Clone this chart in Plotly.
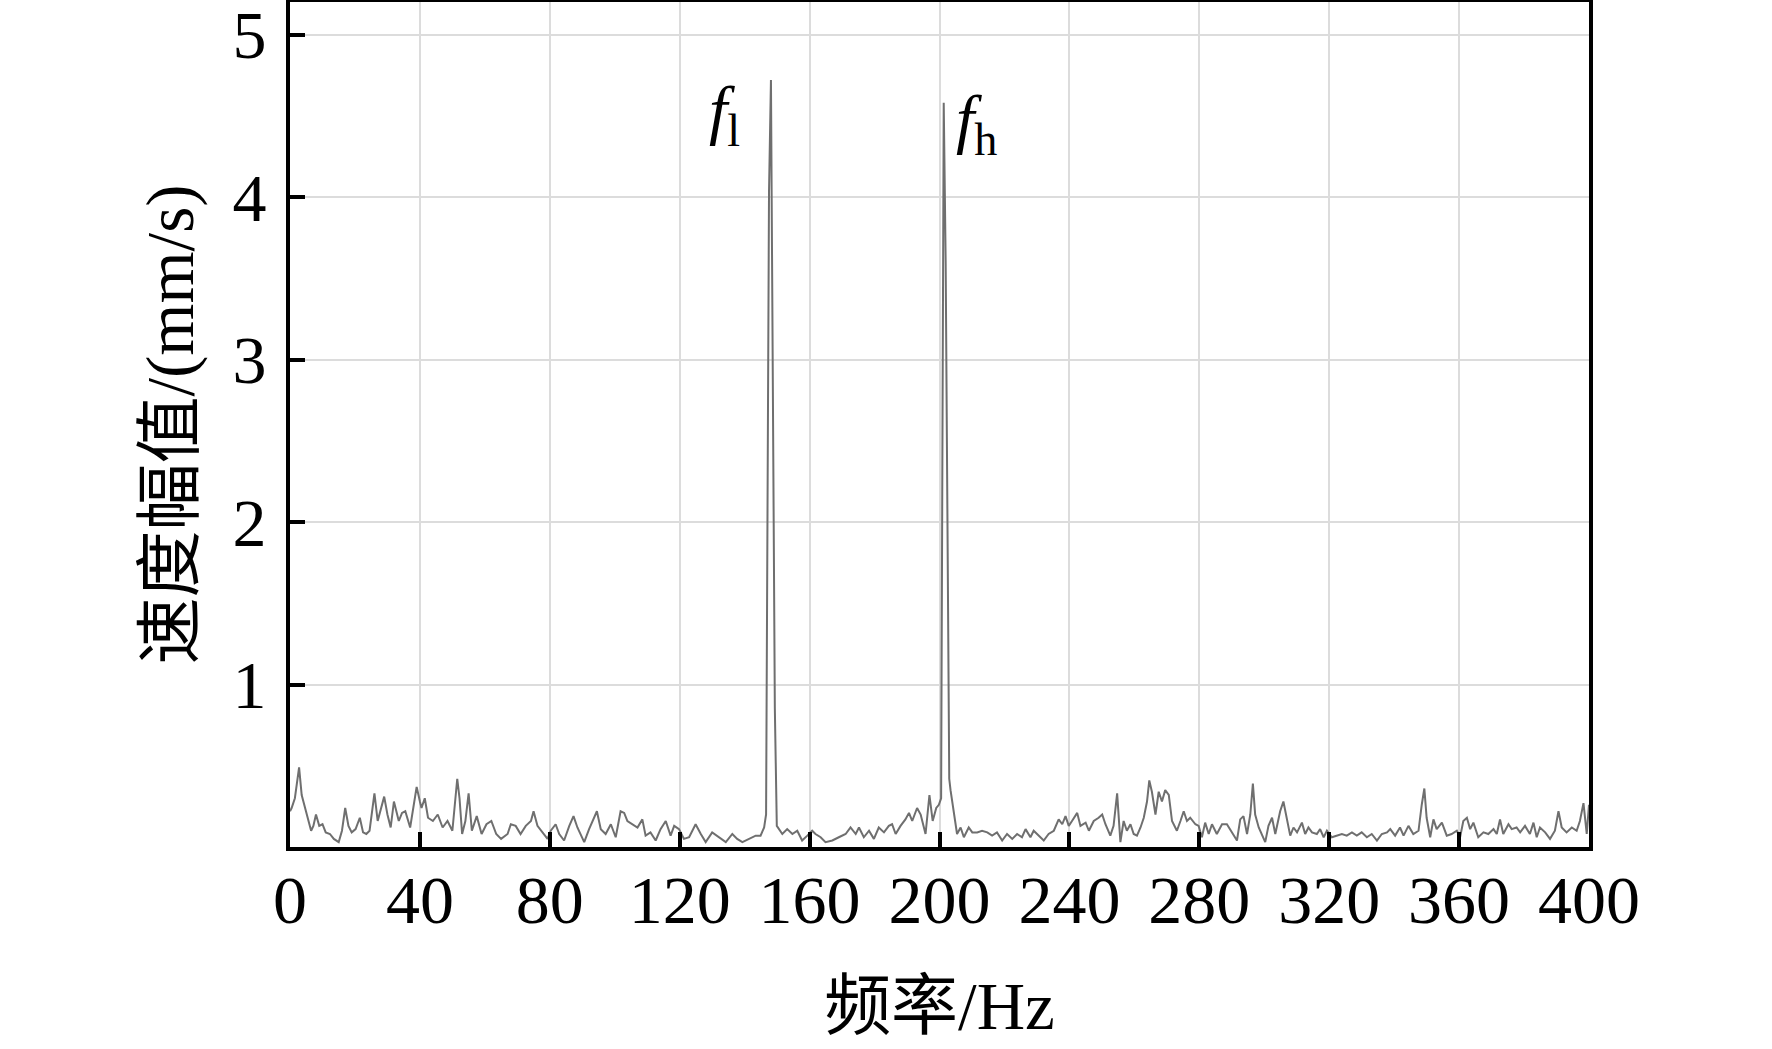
import plotly.graph_objects as go

# ---- data (frequency in Hz, velocity amplitude in mm/s) ----
freq_0_68 = [0, 0.5, 1.5, 2.8, 3.6, 4.4, 5.5, 6.5, 7.2, 8.0,
             9.0, 10.0, 11.0, 12.3, 13.5, 15.0, 16.0, 17.0, 18.0, 19.0,
             20.2, 21.5, 22.5, 23.5, 24.5, 26.0, 27.0, 28.0, 29.0, 30.0,
             31.0, 32.0, 33.5, 34.5, 35.5, 37.0, 38.0, 39.0, 40.0, 40.5,
             41.5, 42.5, 44.0, 45.5, 47.0, 48.5, 50.0, 51.5, 52.2, 53.0,
             54.0, 55.0, 56.0, 57.5, 59.0, 60.5, 62.0, 63.5, 65.0, 67.0,
             68.0]
amp_0_68 = [0.22, 0.24, 0.30, 0.49, 0.32, 0.26, 0.16, 0.10, 0.13, 0.20,
            0.13, 0.14, 0.09, 0.08, 0.05, 0.03, 0.10, 0.24, 0.13, 0.09,
            0.11, 0.18, 0.09, 0.08, 0.10, 0.33, 0.16, 0.24, 0.31, 0.20,
            0.12, 0.28, 0.16, 0.21, 0.22, 0.12, 0.24, 0.37, 0.28, 0.24,
            0.30, 0.18, 0.16, 0.20, 0.12, 0.16, 0.10, 0.42, 0.30, 0.08,
            0.16, 0.33, 0.10, 0.19, 0.08, 0.14, 0.16, 0.08, 0.05, 0.08,
            0.14]

freq_69_135 = [69.5, 71.0, 72.6, 74.2, 75.0, 76.2, 77.7, 79.3, 80.3, 81.8,
               82.9, 84.4, 86.0, 87.3, 88.5, 90.6, 92.1, 93.3, 94.5, 95.7,
               97.2, 98.8, 100.3, 101.8, 102.9, 103.9, 105.4, 107.0, 108.5, 109.5,
               111.0, 112.6, 114.1, 115.7, 117.2, 118.3, 119.8, 121.3, 122.9, 124.9,
               126.5, 128.0, 130.0, 132.1, 134.2]
amp_69_135 = [0.13, 0.08, 0.13, 0.16, 0.22, 0.13, 0.09, 0.05, 0.10, 0.14,
              0.08, 0.04, 0.13, 0.19, 0.12, 0.03, 0.11, 0.16, 0.22, 0.11,
              0.08, 0.14, 0.06, 0.22, 0.21, 0.16, 0.14, 0.12, 0.17, 0.07,
              0.09, 0.04, 0.11, 0.16, 0.07, 0.13, 0.11, 0.05, 0.06, 0.14,
              0.08, 0.03, 0.09, 0.06, 0.03]

freq_136_200 = [136.2, 137.7, 139.3, 141.3, 143.4, 144.9, 146.0,
                146.6, 147.0, 147.5, 148.1, 148.6, 149.3, 149.9,
                151.6, 153.1, 154.7, 156.2, 157.7, 159.3, 160.8, 161.8, 163.4, 164.9,
                167.0, 169.0, 171.1, 172.6, 174.2, 175.2, 176.7, 178.3, 179.8, 181.3,
                182.9, 184.4, 185.4, 186.5, 188.0, 189.5, 190.6, 191.6, 193.1, 194.2,
                195.7, 196.9, 197.9, 199.0, 199.8, 200.5]
amp_136_200 = [0.08, 0.05, 0.03, 0.05, 0.07, 0.07, 0.12,
               0.20, 1.80, 4.03, 4.72, 3.10, 0.85, 0.13,
               0.08, 0.11, 0.08, 0.10, 0.04, 0.07, 0.10, 0.08, 0.06, 0.03,
               0.04, 0.06, 0.08, 0.12, 0.08, 0.12, 0.06, 0.10, 0.05, 0.12,
               0.09, 0.13, 0.14, 0.08, 0.13, 0.17, 0.21, 0.16, 0.24, 0.20,
               0.08, 0.32, 0.16, 0.24, 0.26, 0.30]

freq_201_270 = [201.0, 201.3, 201.9, 202.5, 203.0, 203.4, 204.4, 205.4, 206.5, 207.5,
                209.0, 210.1, 211.6, 213.1, 214.7, 216.2, 217.7, 219.3, 220.8, 222.4,
                223.9, 225.4, 226.5, 228.0, 229.0, 230.6, 232.1, 233.6, 235.2, 236.7,
                237.8, 238.8, 239.8, 240.8, 242.4, 243.4, 245.0, 246.0, 247.5, 249.0,
                250.1, 251.1, 252.6, 253.6, 254.7, 255.7, 256.7, 257.7, 258.8, 259.8,
                260.8, 261.9, 262.9, 263.9, 264.6, 265.4, 266.5, 267.5, 268.5, 269.5]
amp_201_270 = [3.30, 4.58, 3.60, 1.45, 0.42, 0.35, 0.20, 0.08, 0.12, 0.06,
               0.12, 0.09, 0.09, 0.10, 0.09, 0.07, 0.09, 0.04, 0.08, 0.05,
               0.08, 0.06, 0.11, 0.06, 0.10, 0.07, 0.04, 0.08, 0.10, 0.17,
               0.14, 0.19, 0.13, 0.16, 0.21, 0.13, 0.15, 0.10, 0.16, 0.18,
               0.20, 0.14, 0.07, 0.13, 0.33, 0.03, 0.16, 0.10, 0.14, 0.08,
               0.07, 0.12, 0.18, 0.28, 0.41, 0.34, 0.20, 0.34, 0.28, 0.35]

freq_270_338 = [270.6, 271.6, 273.1, 274.2, 275.2, 276.2, 277.2, 278.8, 279.8, 280.8,
                281.8, 282.9, 283.9, 285.4, 287.0, 288.5, 290.0, 291.6, 292.6, 293.6,
                294.7, 295.7, 296.5, 297.2, 298.3, 299.3, 300.3, 301.3, 302.4, 303.4,
                304.9, 305.9, 307.0, 308.0, 309.0, 310.1, 311.6, 312.6, 313.6, 314.7,
                316.2, 317.2, 318.3, 319.3, 320.8, 322.4, 323.9, 325.4, 327.0, 328.5,
                330.0, 331.6, 333.1, 334.7, 336.2, 337.8]
amp_270_338 = [0.32, 0.16, 0.10, 0.16, 0.22, 0.16, 0.18, 0.14, 0.13, 0.06,
               0.15, 0.08, 0.14, 0.08, 0.14, 0.14, 0.09, 0.04, 0.17, 0.19,
               0.08, 0.20, 0.39, 0.20, 0.12, 0.08, 0.03, 0.13, 0.18, 0.08,
               0.22, 0.28, 0.16, 0.07, 0.12, 0.09, 0.15, 0.08, 0.12, 0.09,
               0.08, 0.11, 0.06, 0.10, 0.06, 0.07, 0.08, 0.07, 0.09, 0.07,
               0.09, 0.06, 0.08, 0.04, 0.08, 0.09]

freq_339_400 = [338.8, 340.3, 341.8, 342.9, 344.4, 345.9, 347.5, 348.5, 349.3, 350.0,
                351.1, 352.1, 353.1, 354.7, 356.2, 357.7, 359.3, 360.3, 361.3, 362.4,
                363.4, 364.4, 365.9, 367.5, 369.0, 370.6, 371.6, 372.6, 373.6, 375.2,
                376.2, 377.7, 378.8, 380.3, 381.8, 382.9, 383.9, 384.9, 386.5, 388.0,
                389.5, 390.6, 391.6, 393.1, 394.7, 396.2, 397.2, 398.3, 398.8, 399.3,
                400.0]
amp_339_400 = [0.11, 0.07, 0.12, 0.07, 0.13, 0.08, 0.10, 0.26, 0.36, 0.18,
               0.06, 0.17, 0.11, 0.15, 0.07, 0.08, 0.10, 0.06, 0.16, 0.18,
               0.11, 0.15, 0.06, 0.09, 0.08, 0.11, 0.08, 0.17, 0.08, 0.14,
               0.11, 0.12, 0.09, 0.13, 0.08, 0.15, 0.06, 0.12, 0.09, 0.05,
               0.10, 0.22, 0.12, 0.09, 0.12, 0.10, 0.16, 0.27, 0.16, 0.08,
               0.26]

x_ticks = [0, 40, 80, 120, 160, 200, 240, 280, 320, 360, 400]
y_ticks = [1, 2, 3, 4, 5]
x_title = "频率/Hz"
y_title = "速度幅值/(mm/s)"
peak_label_l = "<i>f</i><sub>l</sub>"
peak_label_h = "<i>f</i><sub>h</sub>"

freq = freq_0_68 + freq_69_135 + freq_136_200 + freq_201_270 + freq_270_338 + freq_339_400
amp = amp_0_68 + amp_69_135 + amp_136_200 + amp_201_270 + amp_270_338 + amp_339_400
assert len(freq) == len(amp)

FONT = "Liberation Serif, Times New Roman, Noto Sans CJK SC, serif"

fig = go.Figure()
fig.add_trace(go.Scatter(x=freq, y=amp, mode="lines",
                         line=dict(color="#6f6f6f", width=2), hoverinfo="skip"))

# peak labels
fig.add_annotation(x=139.2, y=4.51, text=peak_label_l, showarrow=False,
                   xanchor="right", yanchor="middle", font=dict(family=FONT, size=66, color="black"))
fig.add_annotation(x=204.6, y=4.45, text=peak_label_h, showarrow=False,
                   xanchor="left", yanchor="middle", font=dict(family=FONT, size=66, color="black"))

axis_common = dict(showgrid=True, gridcolor="#dcdcdc", gridwidth=2, zeroline=False,
                   showline=True, linecolor="black", linewidth=4, mirror=True,
                   ticks="inside", ticklen=15, tickwidth=4, tickcolor="black",
                   ticklabeloverflow="allow",
                   tickfont=dict(family=FONT, size=68, color="black"))

fig.update_xaxes(range=[0, 400], tickvals=x_ticks, ticktext=[str(v) for v in x_ticks],
                 ticklabelstandoff=-10,
                 title=dict(text=x_title, font=dict(family=FONT, size=67, color="black"), standoff=47),
                 **axis_common)
fig.update_yaxes(range=[0, 5.2], tickvals=y_ticks, ticktext=[str(v) for v in y_ticks],
                 ticklabelstandoff=6,
                 title=dict(text=y_title, font=dict(family=FONT, size=67, color="black"), standoff=18),
                 **axis_common)

fig.update_layout(width=1772, height=1049,
                  margin=dict(l=290, r=183, t=2, b=202, autoexpand=False),
                  plot_bgcolor="white", paper_bgcolor="white",
                  showlegend=False, font=dict(family=FONT, color="black"))

fig.write_html("out.html", config={"displayModeBar": False},
               post_script="document.body.style.margin='0px';")
